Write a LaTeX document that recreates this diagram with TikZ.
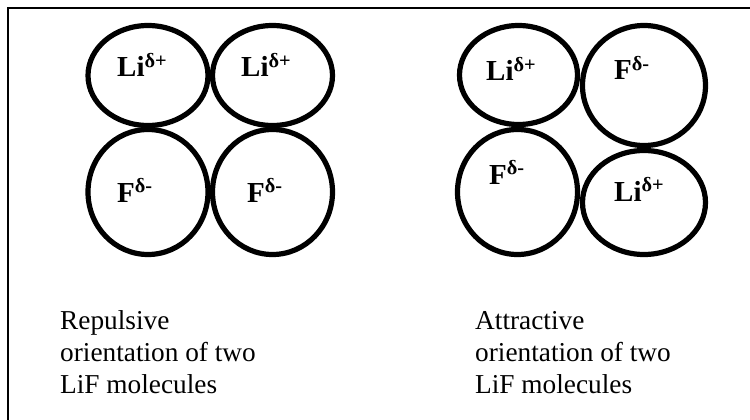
\documentclass[tikz,border=0pt]{standalone}
\usepackage{fontspec}
\setmainfont{Liberation Serif}
\begin{document}
\begin{tikzpicture}[x=1pt,y=-1pt,
  atom/.style={line width=5.2pt},
  lab/.style={anchor=base west,inner sep=0pt,font=\fontsize{29}{32}\selectfont\bfseries},
  captxt/.style={anchor=base west,inner sep=0pt,font=\fontsize{27.3}{32}\selectfont},
  framestyle/.style={line width=1.4pt}]
\useasboundingbox (0,0) rectangle (750,420);
% frame
\coordinate (fbl) at (8,421);
\coordinate (ftl) at (8,8);
\coordinate (ftr) at (751,8);
\draw[framestyle] (fbl) -- (ftl) -- (ftr);
% left group (repulsive)
\draw[atom] (148,75.5) ellipse [x radius=60, y radius=50];
\draw[atom] (272.5,75.5) ellipse [x radius=60, y radius=50];
\draw[atom] (148,192) ellipse [x radius=60, y radius=62.5];
\draw[atom] (272.5,192) ellipse [x radius=60, y radius=62.5];
\node[lab] (l1) at (117,77) {Li\textsuperscript{δ+}};
\node[lab] (l2) at (241,77) {Li\textsuperscript{δ+}};
\node[lab] (l3) at (117,202) {F\textsuperscript{δ-}};
\node[lab] (l4) at (247,202) {F\textsuperscript{δ-}};
% right group (attractive)
\draw[atom] (518.5,75) ellipse [x radius=59, y radius=49.5];
\draw[atom] (644,85.5) ellipse [x radius=61.5, y radius=60];
\draw[atom] (517.5,192) ellipse [x radius=60, y radius=62.5];
\draw[atom] (644,202.5) ellipse [x radius=61.5, y radius=52];
\node[lab] (r1) at (486,81) {Li\textsuperscript{δ+}};
\node[lab] (r2) at (614,80) {F\textsuperscript{δ-}};
\node[lab] (r3) at (489,184) {F\textsuperscript{δ-}};
\node[lab] (r4) at (614,201) {Li\textsuperscript{δ+}};
% captions
\node[captxt] (c1) at (60,329) {Repulsive};
\node[captxt] (c2) at (60,361) {orientation of two};
\node[captxt] (c3) at (60,393) {LiF molecules};
\node[captxt] (d1) at (475,329) {Attractive};
\node[captxt] (d2) at (475,361) {orientation of two};
\node[captxt] (d3) at (475,393) {LiF molecules};
\end{tikzpicture}
\end{document}
